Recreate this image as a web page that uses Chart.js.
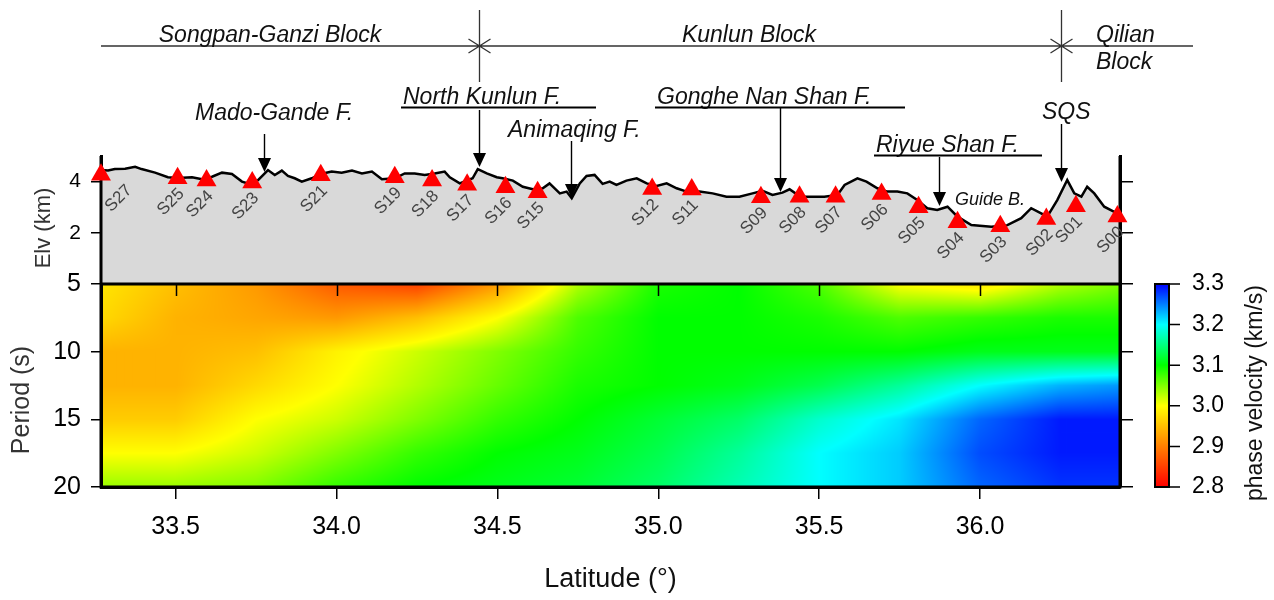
<!DOCTYPE html>
<html lang="en">
<head>
<meta charset="UTF-8">
<title>Phase velocity profile</title>
<script src="https://cdn.jsdelivr.net/npm/chart.js"></script>
<style>
  body { margin: 0; background: #fff; }
</style>
</head>
<body>
<canvas id="profileChart" width="1274" height="600"></canvas>
<script>
const FONT = '"Liberation Sans", Arial, Helvetica, sans-serif';

// topography along the profile (latitude, km)
const profLat = [33.268, 33.290, 33.311, 33.343, 33.374, 33.394, 33.436, 33.476, 33.507, 33.551, 33.582, 33.613,
  33.644, 33.675, 33.706, 33.725, 33.756, 33.787, 33.808, 33.830, 33.849, 33.870, 33.892, 33.923, 33.951, 33.985,
  34.016, 34.048, 34.079, 34.110, 34.141, 34.181, 34.212, 34.243, 34.274, 34.305, 34.336, 34.352, 34.383, 34.423,
  34.439, 34.467, 34.498, 34.516, 34.548, 34.579, 34.610, 34.641, 34.662, 34.694, 34.715, 34.731, 34.756, 34.777,
  34.802, 34.827, 34.849, 34.870, 34.901, 34.933, 34.964, 34.995, 35.026, 35.057, 35.088, 35.128, 35.169, 35.212,
  35.252, 35.293, 35.324, 35.355, 35.386, 35.408, 35.423, 35.454, 35.516, 35.557, 35.579, 35.619, 35.647, 35.681,
  35.712, 35.743, 35.774, 35.805, 35.836, 35.867, 35.899, 35.930, 35.973, 36.035, 36.085, 36.128, 36.159, 36.190,
  36.209, 36.240, 36.271, 36.293, 36.315, 36.333, 36.355, 36.386, 36.417, 36.433];
const profElv = [4.45, 4.43, 4.49, 4.50, 4.58, 4.49, 4.35, 4.17, 4.14, 4.17, 4.09, 4.19,
  4.35, 4.30, 4.00, 3.93, 4.06, 4.45, 4.26, 4.43, 4.22, 4.13, 4.00, 4.13, 4.30, 4.39,
  4.35, 4.43, 4.32, 4.39, 4.09, 4.13, 4.32, 4.32, 4.26, 4.32, 4.39, 4.17, 3.93, 4.13,
  4.49, 4.32, 4.17, 4.13, 4.04, 3.80, 3.70, 3.74, 3.93, 3.54, 3.61, 3.35, 3.93, 4.22,
  4.26, 3.91, 4.00, 3.87, 4.04, 4.13, 3.93, 3.83, 3.93, 3.74, 3.61, 3.61, 3.54, 3.41,
  3.41, 3.54, 3.64, 3.48, 3.57, 3.70, 3.57, 3.41, 3.41, 3.48, 3.87, 4.13, 4.00, 3.74,
  3.61, 3.61, 3.54, 3.28, 2.96, 2.89, 3.02, 2.63, 2.30, 2.24, 2.30, 2.57, 2.96, 2.76,
  2.63, 3.28, 4.06, 3.54, 3.41, 3.80, 3.54, 3.02, 2.82, 2.76];

// seismic stations
const staName = ['S27', 'S25', 'S24', 'S23', 'S21', 'S19', 'S18', 'S17', 'S16', 'S15', 'S12',
  'S11', 'S09', 'S08', 'S07', 'S06', 'S05', 'S04', 'S03', 'S02', 'S01', 'S00'];
const staLat = [33.268, 33.506, 33.596, 33.738, 33.951, 34.181, 34.297, 34.406, 34.525, 34.625, 34.981,
  35.104, 35.319, 35.439, 35.551, 35.694, 35.809, 35.930, 36.063, 36.206, 36.298, 36.427];
const staElv = [4.27, 4.13, 4.04, 3.96, 4.25, 4.17, 4.04, 3.88, 3.78, 3.58, 3.71,
  3.69, 3.39, 3.41, 3.41, 3.52, 3.00, 2.41, 2.26, 2.54, 3.04, 2.64];

// faults and tectonic blocks
const faultName = ['Mado-Gande F.', 'North Kunlun F.', 'Animaqing F.', 'Gonghe Nan Shan F.', 'Riyue Shan F.', 'SQS'];
const faultLat = [33.774, 34.442, 34.728, 35.377, 35.873, 36.252];
const blockName = ['Songpan-Ganzi Block', 'Kunlun Block', 'Qilian Block'];
const blockEdge = [34.442, 36.252];

// tick values
const latTicks = [33.5, 34.0, 34.5, 35.0, 35.5, 36.0];
const elvTicks = [2, 4];
const periodTicks = [5, 10, 15, 20];
const velTicks = [2.8, 2.9, 3.0, 3.1, 3.2, 3.3];

// phase velocity (km/s) on a latitude x period grid
const gridLat = [33.27, 33.5, 33.75, 34.0, 34.25, 34.5, 34.75, 35.0, 35.25, 35.5, 35.75, 36.0, 36.25, 36.43];
const gridPeriod = [5, 7.5, 10, 12.5, 15, 17.5, 20];
const vel_T05 = [2.98, 2.95, 2.92, 2.87, 2.85, 2.92, 3.03, 3.09, 3.10, 3.07, 3.00, 2.98, 3.03, 3.05];
const vel_T075 = [2.97, 2.94, 2.93, 2.92, 2.95, 3.00, 3.07, 3.10, 3.10, 3.09, 3.07, 3.08, 3.09, 3.09];
const vel_T10 = [2.94, 2.94, 2.95, 2.99, 3.02, 3.05, 3.08, 3.10, 3.10, 3.10, 3.10, 3.11, 3.11, 3.11];
const vel_T125 = [2.94, 2.94, 2.97, 3.00, 3.03, 3.06, 3.09, 3.10, 3.11, 3.13, 3.16, 3.20, 3.23, 3.24];
const vel_T15 = [2.96, 2.96, 3.00, 3.02, 3.05, 3.08, 3.10, 3.12, 3.14, 3.18, 3.21, 3.26, 3.29, 3.29];
const vel_T175 = [3.00, 3.00, 3.02, 3.05, 3.08, 3.10, 3.11, 3.13, 3.16, 3.20, 3.22, 3.27, 3.29, 3.29];
const vel_T20 = [3.04, 3.04, 3.05, 3.08, 3.10, 3.11, 3.12, 3.14, 3.17, 3.20, 3.22, 3.26, 3.28, 3.28];
const velRows = [vel_T05, vel_T075, vel_T10, vel_T125, vel_T15, vel_T175, vel_T20];

// red - yellow - green - cyan - blue colour table
const cmap = [[2.8, [255, 0, 0]], [3.0, [255, 255, 0]], [3.1, [0, 255, 0]], [3.2, [0, 255, 255]], [3.3, [0, 0, 255]]];

function velColor(v) {
  if (v <= cmap[0][0]) return cmap[0][1];
  for (let i = 0; i < cmap.length - 1; i++) {
    const [v0, c0] = cmap[i], [v1, c1] = cmap[i + 1];
    if (v <= v1) {
      const t = (v - v0) / (v1 - v0);
      return [0, 1, 2].map(k => Math.round(c0[k] + (c1[k] - c0[k]) * t));
    }
  }
  return cmap[cmap.length - 1][1];
}

function bracket(arr, v) {
  let i = 0;
  while (i < arr.length - 2 && v > arr[i + 1]) i++;
  const t = Math.min(1, Math.max(0, (v - arr[i]) / (arr[i + 1] - arr[i])));
  return [i, t];
}

function velocityAt(lat, per) {
  const [i, tx] = bracket(gridLat, lat);
  const [j, ty] = bracket(gridPeriod, per);
  const a = velRows[j][i], b = velRows[j][i + 1];
  const c = velRows[j + 1][i], d = velRows[j + 1][i + 1];
  return (a * (1 - tx) + b * tx) * (1 - ty) + (c * (1 - tx) + d * tx) * ty;
}

// shaded velocity section under the topography
const velocityField = {
  id: 'velocityField',
  beforeDraw(chart) {
    const { ctx, scales: { x, yPer } } = chart;
    const left = Math.round(x.left), top = Math.round(yPer.top);
    const w = Math.round(x.right) - left, h = Math.round(yPer.bottom) - top;
    const off = document.createElement('canvas');
    off.width = w; off.height = h;
    const octx = off.getContext('2d');
    const img = octx.createImageData(w, h);
    const lats = [];
    for (let i = 0; i < w; i++) lats.push(x.getValueForPixel(left + i + 0.5));
    for (let j = 0; j < h; j++) {
      const per = yPer.getValueForPixel(top + j + 0.5);
      for (let i = 0; i < w; i++) {
        const c = velColor(velocityAt(lats[i], per));
        const p = (j * w + i) * 4;
        img.data[p] = c[0]; img.data[p + 1] = c[1]; img.data[p + 2] = c[2]; img.data[p + 3] = 255;
      }
    }
    octx.putImageData(img, 0, 0);
    ctx.drawImage(off, left, top);
  }
};

// panel frames, drawn over the topography fill but under the stations
const panelFrame = {
  id: 'panelFrame',
  afterDatasetDraw(chart, args) {
    if (args.index !== 1) return;
    const { ctx, scales: { x, yElev, yPer } } = chart;
    ctx.save();
    ctx.strokeStyle = '#000';
    ctx.lineWidth = 3;
    ctx.beginPath();
    ctx.moveTo(x.left, yElev.top); ctx.lineTo(x.left, yPer.bottom);
    ctx.moveTo(x.right, yElev.top); ctx.lineTo(x.right, yPer.bottom);
    ctx.moveTo(x.left - 1.5, yPer.top); ctx.lineTo(x.right + 1.5, yPer.top);
    ctx.moveTo(x.left - 1.5, yPer.bottom); ctx.lineTo(x.right + 1.5, yPer.bottom);
    ctx.stroke();
    // inward latitude ticks along the top of the section
    ctx.lineWidth = 1.5;
    ctx.beginPath();
    latTicks.forEach(v => {
      const px = Math.round(x.getPixelForValue(v)) + 0.5;
      ctx.moveTo(px, yPer.top); ctx.lineTo(px, yPer.top + 12);
    });
    ctx.stroke();
    ctx.restore();
  }
};

function arrowDown(ctx, px, y0, y1) {
  ctx.beginPath();
  ctx.moveTo(px, y0); ctx.lineTo(px, y1 - 10);
  ctx.stroke();
  ctx.beginPath();
  ctx.moveTo(px, y1); ctx.lineTo(px - 6.5, y1 - 14); ctx.lineTo(px + 6.5, y1 - 14);
  ctx.closePath();
  ctx.fill();
}

// text layout of the fault annotations: [text x, baseline, underline end or 0, arrow top, arrow tip]
const faultLayout = [
  [195, 120, 0, 134, 172],
  [403, 104, 596, 110, 167],
  [508, 137, 0, 141, 198],
  [657, 104, 905, 108, 192],
  [876, 152, 1042, 157, 206],
  [1042, 119, 0, 124, 182]
];

const annotations = {
  id: 'annotations',
  afterDraw(chart) {
    const { ctx, chartArea, scales: { x, yElev, yPer } } = chart;
    ctx.save();

    // station names
    ctx.font = '17px ' + FONT;
    ctx.fillStyle = '#444';
    ctx.textAlign = 'right';
    ctx.textBaseline = 'middle';
    staName.forEach((name, i) => {
      const px = x.getPixelForValue(staLat[i]);
      const py = yElev.getPixelForValue(staElv[i]);
      const w = ctx.measureText(name).width;
      const ax = Math.max(px + 4, chartArea.left + w * 0.707 + 7);
      const ay = py + 13;
      ctx.save();
      ctx.translate(ax, ay);
      ctx.rotate(-Math.PI / 4);
      ctx.fillText(name, 0, 0);
      ctx.restore();
    });

    // block boundaries
    const by = 46;
    ctx.strokeStyle = '#333';
    ctx.lineWidth = 1.3;
    ctx.beginPath();
    ctx.moveTo(chartArea.left, by); ctx.lineTo(1193, by);
    blockEdge.forEach(lat => {
      const ex = Math.round(x.getPixelForValue(lat)) + 0.5;
      ctx.moveTo(ex, 10); ctx.lineTo(ex, 82);
      ctx.moveTo(ex - 11, by - 7); ctx.lineTo(ex, by); ctx.lineTo(ex - 11, by + 7);
      ctx.moveTo(ex + 11, by - 7); ctx.lineTo(ex, by); ctx.lineTo(ex + 11, by + 7);
    });
    ctx.stroke();

    ctx.fillStyle = '#111';
    ctx.font = 'italic 23px ' + FONT;
    ctx.textBaseline = 'alphabetic';
    ctx.textAlign = 'center';
    ctx.fillText(blockName[0], 270, 41.5);
    ctx.fillText(blockName[1], 749, 41.5);
    ctx.textAlign = 'left';
    const ql = blockName[2].split(' ');
    ctx.fillText(ql[0], 1096, 41.5);
    ctx.fillText(ql[1], 1096, 68.5);

    // faults
    ctx.strokeStyle = '#000';
    ctx.fillStyle = '#000';
    faultName.forEach((name, i) => {
      const [tx, ty, ux, a0, a1] = faultLayout[i];
      ctx.fillStyle = '#111';
      ctx.fillText(name, tx, ty);
      ctx.lineWidth = 2;
      if (ux) {
        ctx.beginPath();
        ctx.moveTo(tx - 2, ty + 3.5); ctx.lineTo(ux, ty + 3.5);
        ctx.stroke();
      }
      ctx.lineWidth = 1.4;
      ctx.fillStyle = '#000';
      arrowDown(ctx, Math.round(x.getPixelForValue(faultLat[i])) + 0.5, a0, a1);
    });

    ctx.font = 'italic 18px ' + FONT;
    ctx.fillStyle = '#111';
    ctx.fillText('Guide B.', 955, 205);

    // axis titles on the left
    ctx.fillStyle = '#333';
    ctx.textAlign = 'center';
    ctx.textBaseline = 'middle';
    ctx.save();
    ctx.translate(44, 228);
    ctx.rotate(-Math.PI / 2);
    ctx.font = '22px ' + FONT;
    ctx.fillText('Elv (km)', 0, 0);
    ctx.restore();
    ctx.save();
    ctx.translate(22, 400);
    ctx.rotate(-Math.PI / 2);
    ctx.font = '25px ' + FONT;
    ctx.fillText('Period (s)', 0, 0);
    ctx.restore();

    // colour bar
    const cbL = 1155, cbR = 1169, cbT = yPer.top, cbB = yPer.bottom;
    const vMin = velTicks[0], vMax = velTicks[velTicks.length - 1];
    const vAt = v => cbB - (v - vMin) / (vMax - vMin) * (cbB - cbT);
    for (let py = Math.floor(cbT); py < cbB; py++) {
      const c = velColor(vMin + (cbB - py - 0.5) / (cbB - cbT) * (vMax - vMin));
      ctx.fillStyle = `rgb(${c[0]},${c[1]},${c[2]})`;
      ctx.fillRect(cbL, py, cbR - cbL, 1);
    }
    ctx.strokeStyle = '#000';
    ctx.lineWidth = 2;
    ctx.strokeRect(cbL, cbT, cbR - cbL, cbB - cbT);
    ctx.lineWidth = 1.5;
    ctx.beginPath();
    velTicks.forEach(v => {
      const py = vAt(v);
      ctx.moveTo(cbR, py); ctx.lineTo(cbR + 11, py);
    });
    ctx.stroke();
    ctx.fillStyle = '#000';
    ctx.font = '23px ' + FONT;
    ctx.textAlign = 'left';
    velTicks.forEach(v => ctx.fillText(v.toFixed(1), 1192, vAt(v)));
    ctx.save();
    ctx.translate(1256, 393);
    ctx.rotate(-Math.PI / 2);
    ctx.textAlign = 'center';
    ctx.fillStyle = '#111';
    ctx.fillText('phase velocity (km/s)', 0, 0);
    ctx.restore();

    ctx.restore();
  }
};

const frameGrid = (len) => ({ drawOnChartArea: false, drawTicks: true, tickLength: len, color: '#000', lineWidth: 1.5 });
const frameBorder = { display: true, color: '#000', width: 3 };

new Chart(document.getElementById('profileChart'), {
  data: {
    datasets: [
      {
        type: 'scatter',
        label: 'Stations',
        data: staLat.map((v, i) => ({ x: v, y: staElv[i] })),
        yAxisID: 'yElev',
        pointStyle: 'triangle',
        pointRadius: 11.5,
        pointBackgroundColor: '#ff0000',
        pointBorderWidth: 0,
        clip: false
      },
      {
        type: 'line',
        label: 'Topography',
        data: profLat.map((v, i) => ({ x: v, y: profElv[i] })),
        yAxisID: 'yElev',
        borderColor: '#000',
        borderWidth: 2.5,
        backgroundColor: '#d9d9d9',
        fill: 'origin',
        pointRadius: 0,
        tension: 0
      }
    ]
  },
  options: {
    responsive: false,
    animation: false,
    events: [],
    layout: { padding: { top: 156, left: 0, right: 140, bottom: 0 } },
    plugins: { legend: { display: false }, tooltip: { enabled: false } },
    scales: {
      x: {
        type: 'linear',
        position: 'bottom',
        min: 33.268,
        max: 36.435,
        afterBuildTicks: s => { s.ticks = latTicks.map(v => ({ value: v })); },
        afterFit: s => { s.height = 113; },
        ticks: { font: { family: FONT, size: 25 }, color: '#000', padding: 13, maxRotation: 0, callback: v => v.toFixed(1) },
        grid: frameGrid(12),
        border: frameBorder,
        title: { display: true, text: 'Latitude (°)', color: '#111', font: { family: FONT, size: 27 }, padding: { top: 0, bottom: 4 } }
      },
      yElev: {
        type: 'linear',
        position: 'left',
        stack: 'left',
        stackWeight: 128,
        weight: 2,
        min: 0,
        max: 5,
        afterBuildTicks: s => { s.ticks = elvTicks.map(v => ({ value: v })); },
        afterFit: s => { s.width = 101; },
        ticks: { font: { family: FONT, size: 21 }, color: '#000', padding: 10 },
        grid: frameGrid(10),
        border: frameBorder
      },
      yPer: {
        type: 'linear',
        position: 'left',
        stack: 'left',
        stackWeight: 203,
        weight: 1,
        min: 5,
        max: 20,
        reverse: true,
        afterBuildTicks: s => { s.ticks = periodTicks.map(v => ({ value: v })); },
        afterFit: s => { s.width = 101; },
        ticks: { font: { family: FONT, size: 25 }, color: '#000', padding: 10 },
        grid: frameGrid(10),
        border: frameBorder
      },
      // right-hand stack is placed in ascending weight order
      yElevR: {
        type: 'linear',
        position: 'right',
        stack: 'right',
        stackWeight: 128,
        weight: 1,
        min: 0,
        max: 5,
        afterBuildTicks: s => { s.ticks = elvTicks.map(v => ({ value: v })); },
        afterFit: s => { s.width = 14; },
        ticks: { display: false },
        grid: frameGrid(13),
        border: frameBorder
      },
      yPerR: {
        type: 'linear',
        position: 'right',
        stack: 'right',
        stackWeight: 203,
        weight: 2,
        min: 5,
        max: 20,
        reverse: true,
        afterBuildTicks: s => { s.ticks = periodTicks.map(v => ({ value: v })); },
        afterFit: s => { s.width = 14; },
        ticks: { display: false },
        grid: frameGrid(13),
        border: frameBorder
      }
    }
  },
  plugins: [velocityField, panelFrame, annotations]
});
</script>
</body>
</html>
